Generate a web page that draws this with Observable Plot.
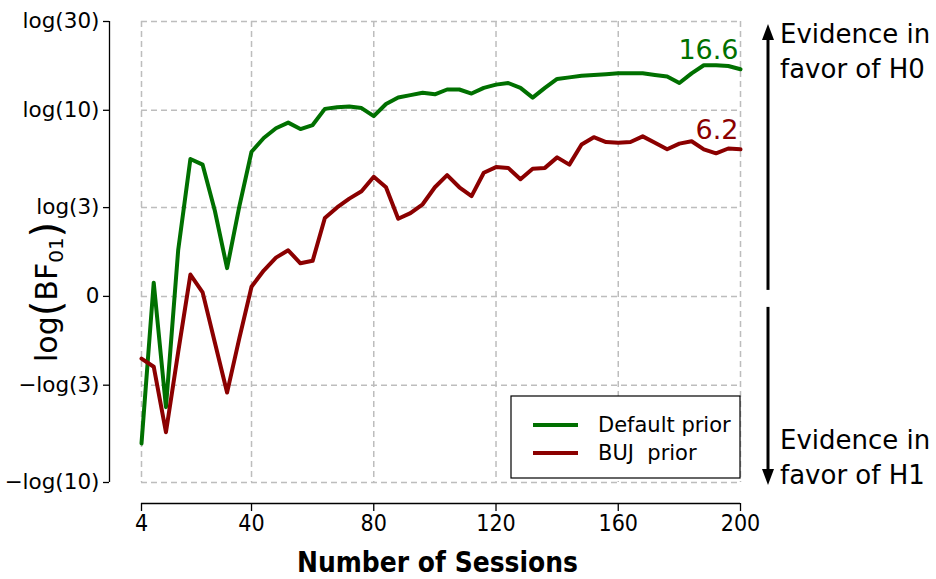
<!DOCTYPE html>
<html><head><meta charset="utf-8">
<script src="https://cdn.jsdelivr.net/npm/d3@7"></script>
<script src="https://cdn.jsdelivr.net/npm/@observablehq/plot@0.6"></script>
<style>body{margin:0;background:#fff} svg{display:block}</style>
</head><body><div id="chart"></div>
<script>
const sessions = [4,8,12,16,20,24,28,32,36,40,44,48,52,56,60,64,68,72,76,80,84,88,92,96,100,104,108,112,116,120,124,128,132,136,140,144,148,152,156,160,164,168,172,176,180,184,188,192,196,200];
const defaultPrior = [-1.82,0.17,-1.37,0.57,1.70,1.63,1.06,0.35,1.11,1.79,1.96,2.08,2.15,2.07,2.12,2.32,2.34,2.35,2.33,2.23,2.38,2.46,2.49,2.52,2.50,2.56,2.56,2.51,2.58,2.62,2.64,2.58,2.46,2.58,2.69,2.71,2.73,2.74,2.75,2.76,2.76,2.76,2.74,2.72,2.64,2.76,2.86,2.86,2.85,2.81];
const bujPrior = [-0.77,-0.87,-1.68,-0.69,0.27,0.05,-0.57,-1.19,-0.52,0.12,0.32,0.48,0.57,0.41,0.44,0.97,1.10,1.21,1.30,1.48,1.35,0.96,1.03,1.14,1.35,1.50,1.35,1.24,1.53,1.60,1.59,1.45,1.58,1.59,1.72,1.63,1.88,1.97,1.91,1.90,1.91,1.98,1.90,1.82,1.89,1.92,1.82,1.77,1.83,1.82];
const seriesNames = ["Default prior", "BUJ  prior"];
const seriesColors = ["#007000", "#8b0000"];
const endLabels = ["16.6", "6.2"];
const yTickValues = [-Math.log(10), -Math.log(3), 0, Math.log(3), Math.log(10), Math.log(30)];
const yTickLabels = ["\u2212log(10)", "\u2212log(3)", "0", "log(3)", "log(10)", "log(30)"];
const xTickValues = [4, 40, 80, 120, 160, 200];
const xTitle = "Number of Sessions";
const sideNotes = [["Evidence in", "favor of H0"], ["Evidence in", "favor of H1"]];

const yDom = [-Math.log(10), Math.log(30)];
const xDom = [4, 200];

const rows = [];
sessions.forEach((s, i) => {
  rows.push({session: s, value: defaultPrior[i], series: seriesNames[0]});
  rows.push({session: s, value: bujPrior[i], series: seriesNames[1]});
});
const lastPts = seriesNames.map((n, k) => ({
  session: sessions[sessions.length - 1],
  value: [defaultPrior, bujPrior][k][sessions.length - 1],
  series: n, label: endLabels[k]
}));

const gridStyle = {stroke: "#bdbdbd", strokeOpacity: 1, strokeWidth: 1.5, strokeDasharray: "6,4"};

const plot = Plot.plot({
  width: 936, height: 579,
  marginLeft: 141, marginRight: 196, marginTop: 21, marginBottom: 97,
  style: {fontFamily: "DejaVu Sans", background: "#fff", color: "#000"},
  x: {domain: xDom},
  y: {domain: yDom},
  color: {domain: seriesNames, range: seriesColors},
  marks: [
    Plot.gridX(xTickValues, gridStyle),
    Plot.gridY(yTickValues, gridStyle),
    Plot.ruleX([xDom[0]], {y1: yDom[0], y2: yDom[1], dx: -32, stroke: "#000", strokeWidth: 1.3}),
    Plot.axisY(yTickValues, {tickFormat: d => yTickLabels[yTickValues.indexOf(d)], tickSize: 6, tickPadding: 4, dx: -32, fontSize: 21.5, label: null, stroke: "#000", strokeWidth: 1.3}),
    Plot.ruleY([yDom[0]], {x1: xDom[0], x2: xDom[1], dy: 21, stroke: "#000", strokeWidth: 1.3}),
    Plot.axisX(xTickValues, {tickSize: 8, tickPadding: 3, dy: 21, fontSize: 23, label: null, fontFamily: "DejaVu Sans Condensed, DejaVu Sans", fontStretch: "condensed", stroke: "#000", strokeWidth: 1.3}),
    Plot.line(rows, {x: "session", y: "value", z: "series", stroke: "series", strokeWidth: 4}),
    Plot.text(lastPts, {x: "session", y: "value", text: "label", fill: "series", dy: -19, dx: -2, textAnchor: "end", fontSize: 27})
  ]
});
document.getElementById("chart").appendChild(plot);

const svg = d3.select(plot);
const xs = plot.scale("x"), ys = plot.scale("y");
const X = v => xs.apply(v), Y = v => ys.apply(v);
const pL = X(xDom[0]), pR = X(xDom[1]), pT = Y(yDom[1]), pB = Y(yDom[0]), pZ = Y(0);

// x title
svg.append("text")
  .attr("x", (pL + pR) / 2 - 3).attr("y", pB + 90)
  .attr("text-anchor", "middle")
  .attr("textLength", 281).attr("lengthAdjust", "spacingAndGlyphs")
  .style("font-family", "DejaVu Sans").style("font-weight", "bold").style("font-size", "29px")
  .text(xTitle);

// y label log(BF01)
const yl = svg.append("text")
  .attr("transform", `translate(${pL - 84},${pZ - 4}) rotate(-90)`)
  .attr("text-anchor", "middle")
  .style("font-family", "DejaVu Sans").style("font-size", "30px");
yl.append("tspan").text("log");
yl.append("tspan").style("font-size", "40px").attr("dy", 3).text("(");
yl.append("tspan").attr("dy", -3).text("BF");
yl.append("tspan").style("font-size", "20px").attr("dy", 6).text("01");
yl.append("tspan").style("font-size", "40px").attr("dy", -3).text(")");

// side arrows
const ax = pR + 28;
svg.append("line").attr("x1", ax).attr("x2", ax).attr("y1", pZ - 6).attr("y2", pT + 14).attr("stroke", "#000").attr("stroke-width", 3);
svg.append("path").attr("d", `M${ax},${pT + 3} L${ax - 6},${pT + 19} L${ax + 6},${pT + 19} Z`).attr("fill", "#000");
svg.append("line").attr("x1", ax).attr("x2", ax).attr("y1", pZ + 11).attr("y2", pB - 10).attr("stroke", "#000").attr("stroke-width", 3);
svg.append("path").attr("d", `M${ax},${pB + 3} L${ax - 6},${pB - 13} L${ax + 6},${pB - 13} Z`).attr("fill", "#000");
const noteY = [[pT + 22, pT + 57], [pB - 33, pB + 2]];
sideNotes.forEach((lines, k) => {
  lines.forEach((t, j) => {
    svg.append("text").attr("x", ax + 12).attr("y", noteY[k][j]).attr("text-anchor", "start")
      .style("font-family", "DejaVu Sans").style("font-size", "26px").text(t);
  });
});

// legend
const lw = 229, lh = 82;
const lx = pR - lw, ly = pB - 86;
svg.append("rect").attr("x", lx).attr("y", ly).attr("width", lw).attr("height", lh)
  .attr("fill", "#fff").attr("stroke", "#000").attr("stroke-width", 1.2);
seriesNames.forEach((n, k) => {
  const yy = ly + 29 + k * 28;
  svg.append("line").attr("x1", lx + 22).attr("x2", lx + 67).attr("y1", yy).attr("y2", yy)
    .attr("stroke", seriesColors[k]).attr("stroke-width", 4);
  svg.append("text").attr("x", lx + 87).attr("y", yy).attr("dy", "0.35em").attr("text-anchor", "start")
    .style("font-family", "DejaVu Sans").style("font-size", "21px").style("white-space", "pre")
    .attr("xml:space", "preserve").text(n);
});
</script>
</body></html>
